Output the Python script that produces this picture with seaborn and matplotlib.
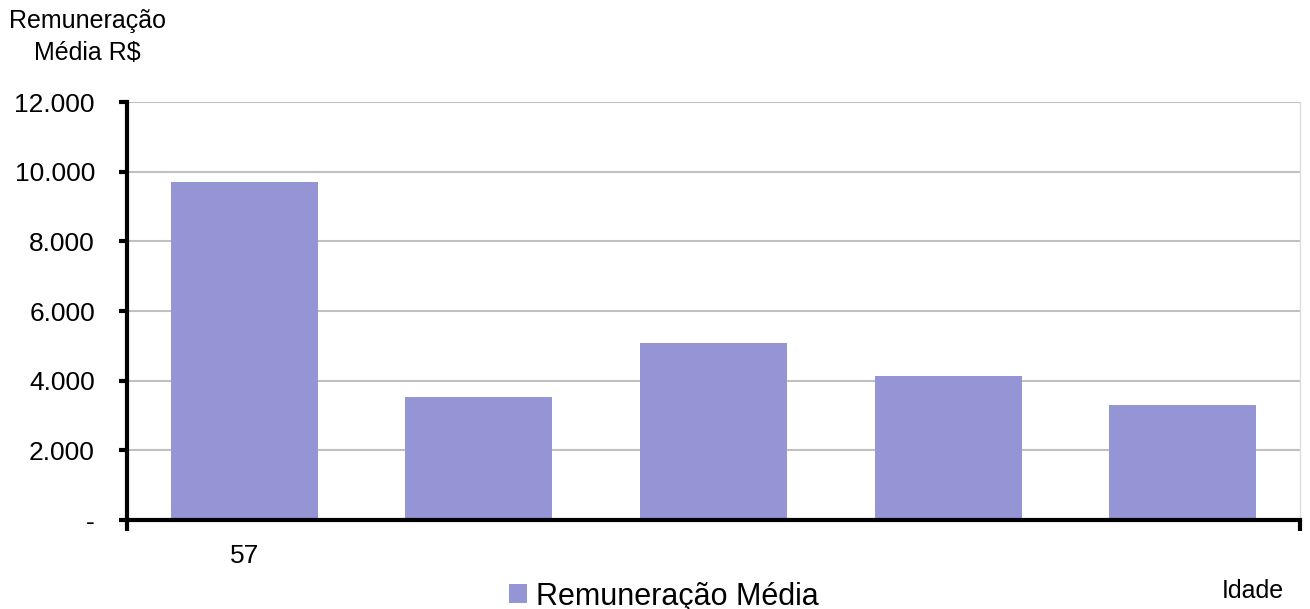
import numpy as np
import seaborn as sns
import pandas as pd
import matplotlib.pyplot as plt
from matplotlib.ticker import FixedLocator, FuncFormatter

# values
idades = ["57", "a", "b", "c", "d"]
rotulos = ["57", "", "", "", ""]
remuneracao = [9700, 3530, 5080, 4140, 3300]

df = pd.DataFrame({"idade": idades, "valor": remuneracao})

sns.set_style("white")
plt.rcParams['font.family'] = ['Liberation Sans', 'DejaVu Sans']
plt.rcParams['text.color'] = 'black'
plt.rcParams['xtick.color'] = 'black'
plt.rcParams['ytick.color'] = 'black'

fig = plt.figure(figsize=(13.1, 6.09), dpi=100)
ax = fig.add_axes([0.0969, 0.1461, 0.8955, 0.6864])

cor = "#9594D4"
sns.barplot(data=df, x="idade", y="valor", color=cor, saturation=1,
            width=0.627, ax=ax, label="Remuneração Média", linewidth=0)

ax.set_xlim(-0.5, 4.5)
ax.set_ylim(0, 12000)
ax.set_yticks(np.arange(0, 12001, 2000))
ax.yaxis.set_major_formatter(FuncFormatter(
    lambda v, p: "-" if v == 0 else f"{int(v):,}".replace(",", ".")))
ax.set_xticks(range(len(idades)))
ax.set_xticklabels(rotulos)
ax.xaxis.set_minor_locator(FixedLocator([-0.5, 4.5]))

ax.grid(axis="y", color="#c0c0c0", linewidth=1.5)
ax.set_axisbelow(True)
ax.spines["top"].set_visible(False)
ax.spines["right"].set_color("#dddddd")
ax.spines["right"].set_linewidth(1)
ax.spines["left"].set_linewidth(3)
ax.spines["bottom"].set_linewidth(3)
ax.spines["left"].set_color("black")
ax.spines["bottom"].set_color("black")

ax.tick_params(axis="y", which="major", length=6, width=3, direction="out",
               left=True, labelsize=19, pad=17)
ax.tick_params(axis="x", which="major", length=0, labelsize=19, pad=17)
ax.tick_params(axis="x", which="minor", length=8, width=3, direction="out",
               bottom=True)

ax.set_xlabel("")
ax.set_ylabel("")
fig.text(0.007, 0.966, "Remuneração", fontsize=18, ha="left", va="center")
fig.text(0.026, 0.913, "Média R$", fontsize=18, ha="left", va="center")
fig.text(0.98, 0.03, "Idade", fontsize=18, ha="right", va="center")

leg = ax.legend(loc="center", bbox_to_anchor=(0.4575, -0.183), frameon=False,
                fontsize=22, handlelength=0.6, handleheight=0.6,
                handletextpad=0.3)

fig.savefig("out.png", dpi=100)
